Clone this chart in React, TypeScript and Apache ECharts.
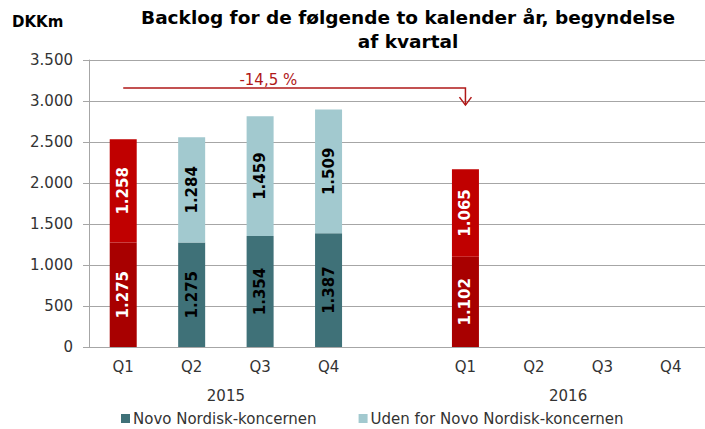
import React, { useEffect, useRef } from "react";
import * as echarts from "echarts";

const categories = ["Q1", "Q2", "Q3", "Q4", "", "Q1", "Q2", "Q3", "Q4"];
const years = ["2015", "2016"];
const yearCenters = [[1, 2], [6, 7]]; // category indices the year label sits between
const novoValues: (number | null)[] = [1275, 1275, 1354, 1387, null, 1102, null, null, null];
const udenValues: (number | null)[] = [1258, 1284, 1459, 1509, null, 1065, null, null, null];
const highlighted = [0, 5]; // quarters shown in red
const changeLabel = "-14,5 %";
const arrowFrom = 0;
const arrowTo = 5;
const arrowLevel = 3160;
const arrowTipLevel = 2950;

const NOVO = "#3F7178";
const UDEN = "#A2C9CF";
const RED_DARK = "#A80000";
const RED = "#C00000";
const FONT = "DejaVu Sans, Verdana, sans-serif";

const fmt = (v: number) => v.toString().replace(/\B(?=(\d{3})+(?!\d))/g, ".");

function buildData(values: (number | null)[], base: string, red: string) {
  return values.map((v, i) => {
    const hi = highlighted.includes(i);
    return {
      value: v,
      itemStyle: { color: hi ? red : base },
      label: { color: hi ? "#FFFFFF" : "#000000" },
    };
  });
}

export default function App() {
  const ref = useRef<HTMLDivElement>(null);
  useEffect(() => {
    if (!ref.current) return;
    const chart = echarts.init(ref.current, null, { renderer: "svg" });
    const label = {
      show: true,
      position: "inside",
      rotate: 90,
      fontFamily: FONT,
      fontSize: 15,
      fontWeight: "bold",
      formatter: (p: any) => fmt(p.value),
    };
    chart.setOption({
      animation: false,
      textStyle: { fontFamily: FONT },
      grid: { left: 89, right: 0, top: 60, bottom: 82, containLabel: false },
      legend: {
        left: 116,
        top: 406,
        itemWidth: 9,
        itemHeight: 9,
        itemGap: 42,
        icon: "rect",
        textStyle: { fontFamily: FONT, fontSize: 15, color: "#333333", padding: [0, 0, 0, -2] },
        data: [
          { name: "Novo Nordisk-koncernen", itemStyle: { color: NOVO } },
          { name: "Uden for Novo Nordisk-koncernen", itemStyle: { color: UDEN } },
        ],
      },
      xAxis: {
        type: "category",
        data: categories,
        axisLine: { lineStyle: { color: "#A6A6A6" } },
        axisTick: { show: false },
        axisLabel: { fontFamily: FONT, fontSize: 15, color: "#333333", margin: 12 },
      },
      yAxis: {
        type: "value",
        min: 0,
        max: 3500,
        interval: 500,
        axisLine: { show: true, lineStyle: { color: "#A6A6A6" } },
        axisTick: { show: true, length: 6, lineStyle: { color: "#A6A6A6" } },
        splitLine: { lineStyle: { color: "#A6A6A6" } },
        axisLabel: { fontFamily: FONT, fontSize: 15, color: "#333333", margin: 16, formatter: (v: number) => fmt(v) },
      },
      series: [
        {
          name: "Novo Nordisk-koncernen",
          type: "bar",
          stack: "total",
          barWidth: 27,
          data: buildData(novoValues, NOVO, RED_DARK),
          label,
        },
        {
          name: "Uden for Novo Nordisk-koncernen",
          type: "bar",
          stack: "total",
          barWidth: 27,
          data: buildData(udenValues, UDEN, RED),
          label,
        },
      ],
    });

    const px = (i: number, v: number) => chart.convertToPixel({ gridIndex: 0 }, [i, v]) as number[];
    const [x0, yLine] = px(arrowFrom, arrowLevel);
    const [x1] = px(arrowTo, arrowLevel);
    const [, yTip] = px(arrowTo, arrowTipLevel);
    const [, yZero] = px(0, 0);
    const arrowColor = "#B01818";

    const yearTexts = years.map((y, k) => {
      const [a] = px(yearCenters[k][0], 0);
      const [b] = px(yearCenters[k][1], 0);
      return {
        type: "text",
        x: (a + b) / 2,
        y: yZero + 49,
        style: { text: y, fontFamily: FONT, fontSize: 15, fill: "#333333", align: "center", verticalAlign: "middle" },
      };
    });

    chart.setOption({
      graphic: [
        {
          type: "text",
          x: 408,
          y: 5,
          style: {
            text: "Backlog for de følgende to kalender år, begyndelse\naf kvartal",
            fontFamily: FONT,
            fontSize: 18.5,
            fontWeight: "bold",
            fill: "#000000",
            align: "center",
            lineHeight: 24,
          },
        },
        {
          type: "text",
          x: 12,
          y: 14,
          style: { text: "DKKm", fontFamily: FONT, fontSize: 15, fontWeight: "bold", fill: "#000000" },
        },
        {
          type: "polyline",
          shape: { points: [[x0, yLine], [x1, yLine], [x1, yTip]] },
          style: { stroke: arrowColor, lineWidth: 1.5, fill: null },
        },
        {
          type: "polyline",
          shape: { points: [[x1 - 6, yTip - 8], [x1, yTip], [x1 + 6, yTip - 8]] },
          style: { stroke: arrowColor, lineWidth: 1.5, fill: null },
        },
        {
          type: "text",
          x: (x0 + x1) / 2 - 26,
          y: yLine - 8,
          style: {
            text: changeLabel,
            fontFamily: FONT,
            fontSize: 15,
            fill: arrowColor,
            align: "center",
            verticalAlign: "middle",
          },
        },
        ...yearTexts,
      ],
    });
    return () => chart.dispose();
  }, []);
  return <div ref={ref} style={{ width: 705, height: 429, position: "absolute", left: 0, top: 0 }} />;
}
